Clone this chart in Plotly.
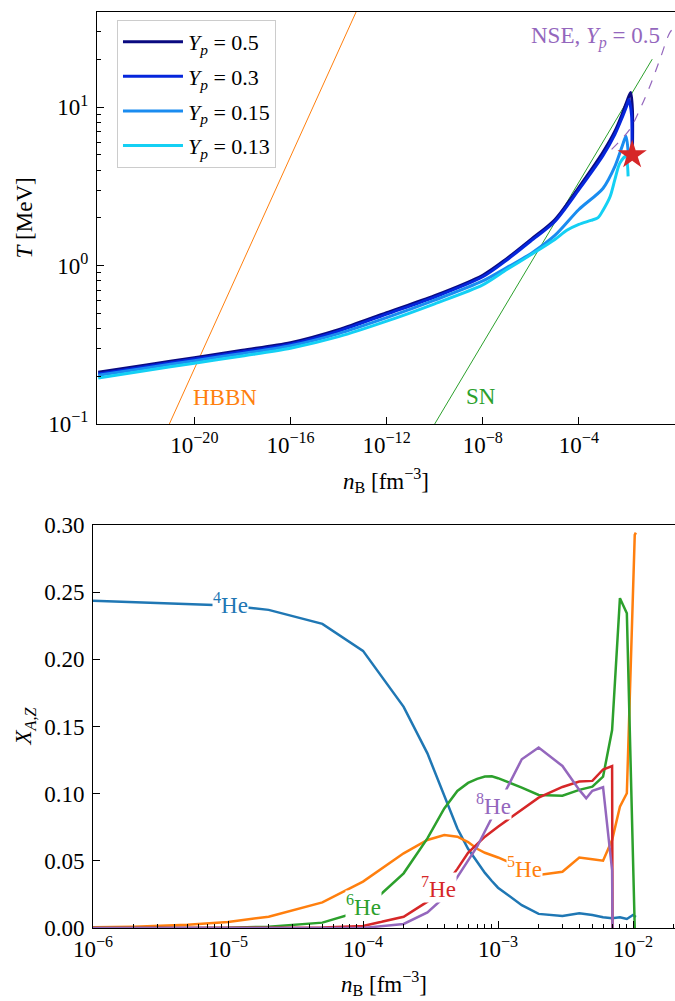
import plotly.graph_objects as go

FONT = "Liberation Serif, Times New Roman, DejaVu Serif, serif"
FS = 23

# ---------------- top panel: T vs n_B ----------------
yp_labels = ["0.5", "0.3", "0.15", "0.13"]
yp_colors = ["#0a0a80", "#0526dc", "#1a8cf0", "#14d0f4"]

nB_yp050 = [1e-24, 1e-22, 1e-20, 1e-18, 1e-16, 1e-14, 1e-12, 1e-10, 1e-8, 1e-7, 1e-6, 1e-5,
            1e-4, 1e-3, 3.16e-3, 6.31e-3, 1.0e-2, 1.43e-2, 1.69e-2, 1.69e-2]
T_yp050 = [0.212, 0.236, 0.262, 0.292, 0.326, 0.394, 0.505, 0.646, 0.870, 1.107, 1.46, 1.95,
           3.12, 5.19, 7.05, 9.03, 10.9, 12.4, 9.7, 5.05]

nB_yp030 = [1e-24, 1e-22, 1e-20, 1e-18, 1e-16, 1e-14, 1e-12, 1e-10, 1e-8, 1e-7, 1e-6, 1e-5,
            1e-4, 1e-3, 3.16e-3, 6.31e-3, 1.0e-2, 1.21e-2, 1.55e-2, 1.62e-2]
T_yp030 = [0.207, 0.231, 0.257, 0.286, 0.319, 0.386, 0.494, 0.633, 0.850, 1.085, 1.43, 1.90,
           3.02, 4.95, 6.75, 8.6, 10.3, 11.2, 9.0, 5.4]

nB_yp015 = [1e-24, 1e-22, 1e-20, 1e-18, 1e-16, 1e-14, 1e-12, 1e-10, 1e-8, 1e-7, 1e-6, 1e-5,
            1e-4, 1e-3, 3.16e-3, 6.31e-3, 9.12e-3, 1.13e-2]
T_yp015 = [0.203, 0.226, 0.251, 0.279, 0.312, 0.372, 0.469, 0.605, 0.800, 0.971, 1.19, 1.55,
           2.26, 3.07, 4.23, 5.66, 6.55, 5.19]

nB_yp013 = [1e-24, 1e-22, 1e-20, 1e-18, 1e-16, 1e-14, 1e-12, 1e-10, 1e-8, 1e-7, 1e-6, 1e-5,
            3.16e-5, 1e-4, 3.16e-4, 6.31e-4, 1e-3, 2.0e-3, 3.16e-3, 5.01e-3, 8.91e-3, 1.12e-2]
T_yp013 = [0.195, 0.218, 0.242, 0.269, 0.301, 0.356, 0.446, 0.574, 0.755, 0.944, 1.17, 1.46,
           1.67, 1.82, 1.93, 2.01, 2.23, 2.73, 3.50, 4.42, 4.90, 3.66]

nB_hbbn = [9.1e-22, 5.4e-14]
T_hbbn = [0.1, 40.0]
nB_sn = [1e-10, 0.113]
T_sn = [0.1, 20.1]
nB_nse = [2.30e-3, 5.11e-3, 1.33e-2, 3.48e-2, 9.08e-2, 0.237, 0.619, 0.89]
T_nse = [5.42, 6.13, 7.27, 9.71, 13.6, 20.1, 29.7, 31.5]
nB_star = [1.65e-2]
T_star = [5.0]

# ---------------- bottom panel: mass fractions ----------------
nB_he4 = [1e-6, 1e-5, 2e-5, 5e-5, 1e-4, 2e-4, 3e-4, 4e-4, 5e-4, 6e-4, 7e-4, 8e-4, 9e-4, 1e-3,
          1.5e-3, 2e-3, 3e-3, 4e-3, 5e-3, 6e-3, 7e-3, 8e-3, 9e-3, 1.0e-2, 1.05e-2]
X_he4 = [0.2435, 0.2400, 0.2368, 0.2264, 0.2063, 0.1646, 0.1300, 0.0980, 0.0740, 0.0590, 0.0490,
         0.0410, 0.0350, 0.0300, 0.0170, 0.0105, 0.0089, 0.0110, 0.0097, 0.0080, 0.0072, 0.0080,
         0.0067, 0.0097, 0.0082]

nB_he5 = [1e-6, 2e-6, 5e-6, 1e-5, 2e-5, 5e-5, 1e-4, 2e-4, 3e-4, 4e-4, 5e-4, 6e-4, 7e-4, 8e-4,
          1e-3, 1.5e-3, 2e-3, 3e-3, 4e-3, 5e-3, 6e-3, 7e-3, 8e-3, 9e-3, 1.03e-2, 1.05e-2]
X_he5 = [0.0005, 0.0010, 0.0025, 0.0045, 0.0084, 0.0191, 0.0345, 0.0556, 0.0655, 0.0692, 0.0680,
         0.0640, 0.0590, 0.0560, 0.0525, 0.0450, 0.0395, 0.0419, 0.0525, 0.0511, 0.0501, 0.0655,
         0.0903, 0.1003, 0.2926, 0.2943]

nB_he6 = [1e-6, 1e-5, 2e-5, 5e-5, 1e-4, 2e-4, 3e-4, 4e-4, 5e-4, 6e-4, 7e-4, 8e-4, 9e-4, 1e-3,
          1.5e-3, 2e-3, 3e-3, 4e-3, 5e-3, 6e-3, 7e-3, 8e-3, 9e-3, 1.03e-2]
X_he6 = [0.0, 0.0002, 0.0010, 0.0040, 0.0130, 0.0407, 0.0667, 0.0890, 0.1020, 0.1080, 0.1110,
         0.1128, 0.1130, 0.1115, 0.1045, 0.0990, 0.0985, 0.1028, 0.1052, 0.1126, 0.1474, 0.2455,
         0.2343, 0.0]

nB_he7 = [1e-6, 1e-5, 5e-5, 1e-4, 2e-4, 3e-4, 4e-4, 5e-4, 6e-4, 7e-4, 8e-4, 1e-3, 1.5e-3,
          2e-3, 3e-3, 4e-3, 5e-3, 6e-3, 7e-3, 7.05e-3]
X_he7 = [0.0, 0.0, 0.0003, 0.0015, 0.0084, 0.0196, 0.0310, 0.0440, 0.0560, 0.0625, 0.0680,
         0.0754, 0.0880, 0.0970, 0.1050, 0.1090, 0.1095, 0.1180, 0.1206, 0.0]

nB_he8 = [1e-6, 1e-4, 2e-4, 3e-4, 4e-4, 5e-4, 6e-4, 7e-4, 8e-4, 9e-4, 1e-3, 1.2e-3, 1.5e-3,
          2e-3, 3e-3, 4e-3, 4.5e-3, 5e-3, 6e-3, 7e-3, 7.05e-3]
X_he8 = [0.0, 0.0, 0.0030, 0.0116, 0.0230, 0.0380, 0.0510, 0.0605, 0.0720, 0.0820, 0.0910,
         0.1070, 0.1256, 0.1343, 0.1206, 0.1028, 0.0965, 0.1022, 0.1048, 0.0430, 0.0]

species = ["<sup>4</sup>He", "<sup>5</sup>He", "<sup>6</sup>He", "<sup>7</sup>He", "<sup>8</sup>He"]
species_colors = ["#1f77b4", "#ff7f0e", "#2ca02c", "#d62728", "#9467bd"]
# label positions (log10 n_B, X)
label_logn = [-4.978, -2.807, -3.993, -3.444, -3.030]
label_X = [0.2412, 0.0454, 0.0171, 0.0298, 0.0916]

top_x_ticks = [1e-20, 1e-16, 1e-12, 1e-8, 1e-4]
top_x_text = ["10<sup>−20</sup>", "10<sup>−16</sup>", "10<sup>−12</sup>", "10<sup>−8</sup>", "10<sup>−4</sup>"]
top_y_ticks = [0.1, 1, 10]
top_y_text = ["10<sup>−1</sup>", "10<sup>0</sup>", "10<sup>1</sup>"]
bot_x_ticks = [1e-6, 1e-5, 1e-4, 1e-3, 1e-2]
bot_x_text = ["10<sup>−6</sup>", "10<sup>−5</sup>", "10<sup>−4</sup>", "10<sup>−3</sup>", "10<sup>−2</sup>"]

fig = go.Figure()

# guide lines
fig.add_trace(go.Scatter(x=nB_hbbn, y=T_hbbn, mode="lines", line=dict(color="#ff7f0e", width=1),
                         showlegend=False, xaxis="x", yaxis="y", hoverinfo="skip"))
fig.add_trace(go.Scatter(x=nB_sn, y=T_sn, mode="lines", line=dict(color="#2ca02c", width=1),
                         showlegend=False, xaxis="x", yaxis="y", hoverinfo="skip"))

series_top = [(nB_yp050, T_yp050), (nB_yp030, T_yp030), (nB_yp015, T_yp015), (nB_yp013, T_yp013)]
for i, ((xs, ys), lab, col) in enumerate(zip(series_top, yp_labels, yp_colors)):
    fig.add_trace(go.Scatter(x=xs, y=ys, mode="lines",
                             line=dict(color=col, width=3, shape="spline", smoothing=0.8),
                             name="<i>Y</i><sub><i>p</i></sub> = " + lab, legendgroup="g%d" % i,
                             xaxis="x", yaxis="y"))

fig.add_trace(go.Scatter(x=nB_nse, y=T_nse, mode="lines",
                         line=dict(color="#9467bd", width=1.2, dash="dash", shape="spline"),
                         showlegend=False, xaxis="x", yaxis="y"))
fig.add_trace(go.Scatter(x=nB_star, y=T_star, mode="markers",
                         marker=dict(symbol="star", size=22, color="#d62728", line=dict(width=0)),
                         showlegend=False, xaxis="x", yaxis="y"))

series_bot = [(nB_he4, X_he4), (nB_he5, X_he5), (nB_he6, X_he6), (nB_he7, X_he7), (nB_he8, X_he8)]
for (xs, ys), col in zip(series_bot, species_colors):
    fig.add_trace(go.Scatter(x=xs, y=ys, mode="lines", line=dict(color=col, width=2.5),
                             showlegend=False, xaxis="x2", yaxis="y2"))

annotations = []
for lab, col, lx, ly in zip(species, species_colors, label_logn, label_X):
    annotations.append(dict(x=lx, y=ly, xref="x2", yref="y2", text=lab, showarrow=False,
                            font=dict(family=FONT, size=FS, color=col), bgcolor="white",
                            borderpad=0, xanchor="center", yanchor="middle"))

annotations += [
    dict(x=-18.71, y=-0.835, xref="x", yref="y", text="HBBN", showarrow=False,
         font=dict(family=FONT, size=FS, color="#ff7f0e")),
    dict(x=-8.08, y=-0.829, xref="x", yref="y", text="SN", showarrow=False,
         font=dict(family=FONT, size=FS, color="#2ca02c")),
    dict(x=-0.54, y=1.437, xref="x", yref="y", xanchor="right",
         text="NSE, <i>Y</i><sub><i>p</i></sub> = 0.5", showarrow=False,
         font=dict(family=FONT, size=FS, color="#9467bd")),
    dict(x=-0.118, y=0.775, xref="paper", yref="paper", text="<i>T</i> [MeV]", textangle=-90,
         xanchor="center", yanchor="middle", showarrow=False,
         font=dict(family=FONT, size=FS, color="black")),
    dict(x=0.5034, y=0.488, xref="paper", yref="paper", xanchor="center", yanchor="middle",
         text="<i>n</i><sub>B</sub> [fm<sup>−3</sup>]", showarrow=False,
         font=dict(family=FONT, size=FS, color="black")),
    dict(x=0.5, y=-0.0611, xref="paper", yref="paper", xanchor="center", yanchor="middle",
         text="<i>n</i><sub>B</sub> [fm<sup>−3</sup>]", showarrow=False,
         font=dict(family=FONT, size=FS, color="black")),
    dict(x=-0.116, y=0.2205, xref="paper", yref="paper", xanchor="center", yanchor="middle",
         text="<i>X</i><sub><i>A,Z</i></sub>", textangle=-90, showarrow=False,
         font=dict(family=FONT, size=FS, color="black")),
]

top_minor_y = [m * 10 ** e for e in (-1, 0, 1) for m in range(2, 10) if m * 10 ** e < 40]
bot_minor_x = [m * 10 ** e for e in (-6, -5, -4, -3, -2) for m in range(2, 10) if m * 10 ** e < 0.0205]

axis_common = dict(showgrid=False, zeroline=False, showline=True, linecolor="black", linewidth=1,
                   ticks="inside", ticklen=7, tickwidth=1, tickcolor="black",
                   tickfont=dict(family=FONT, size=FS, color="black"))

fig.update_layout(
    width=675, height=1001,
    margin=dict(l=93, r=0, t=12, b=73),
    paper_bgcolor="white", plot_bgcolor="white",
    font=dict(family=FONT, size=FS, color="black"),
    xaxis=dict(type="log", range=[-24.05, 0], domain=[0.0069, 1], anchor="y",
               tickmode="array", tickvals=top_x_ticks, ticktext=top_x_text, mirror=True,
               **axis_common),
    yaxis=dict(type="log", range=[-1, 1.601], domain=[0.5502, 1], anchor="x",
               tickmode="array", tickvals=top_y_ticks, ticktext=top_y_text, ticklabelstandoff=3,
               minor=dict(tickmode="array", tickvals=top_minor_y, ticks="inside", ticklen=4,
                          tickcolor="black", tickwidth=1),
               **axis_common),
    xaxis2=dict(type="log", range=[-6, -1.689], domain=[0, 1], anchor="y2",
                tickmode="array", tickvals=bot_x_ticks, ticktext=bot_x_text, mirror=True,
                minor=dict(tickmode="array", tickvals=bot_minor_x, ticks="inside", ticklen=4,
                           tickcolor="black", tickwidth=1),
                **axis_common),
    yaxis2=dict(range=[0, 0.30], domain=[0, 0.44], anchor="x2", dtick=0.05, tick0=0,
                tickformat=".2f", ticklabelstandoff=3, **axis_common),
    legend=dict(x=0.0412, y=0.9913, xanchor="left", yanchor="top", bgcolor="white",
                bordercolor="#cccccc", borderwidth=1, tracegroupgap=3, itemwidth=60,
                font=dict(family=FONT, size=22, color="black")),
    annotations=annotations,
)

fig.write_html("out.html", config={"displayModeBar": False},
               post_script="document.body.style.margin='0px';")
